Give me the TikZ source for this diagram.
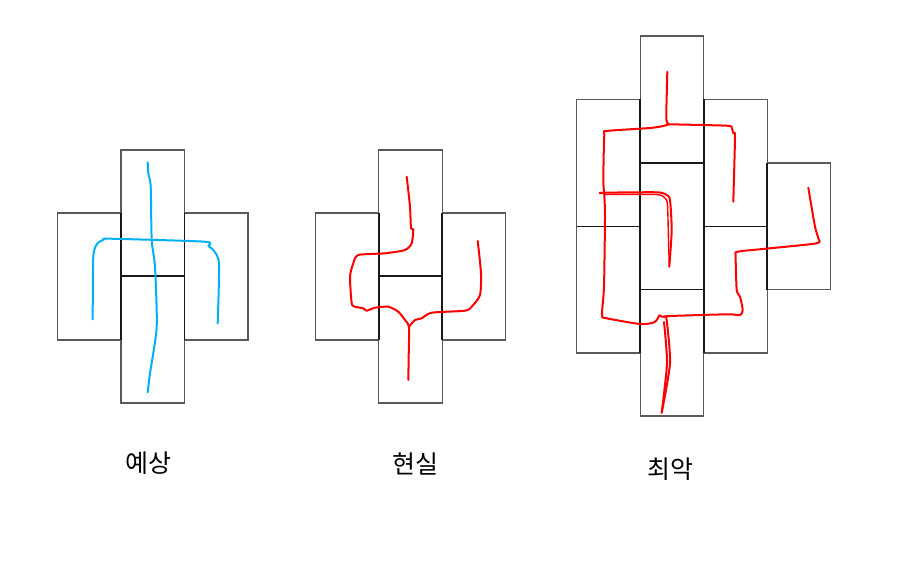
\documentclass[tikz,border=0pt]{standalone}
\usepackage{fontspec}
\newfontfamily\kofont{Noto Sans CJK KR}
\tikzset{
  cell/.style={draw=black!65, line width=0.65pt},
  seam/.style={draw=black!90, line width=0.8pt},
  plan/.style={color=#1, line width=1pt, line cap=round, line join=round},
  caption/.style={font=\kofont\fontsize{12.5}{14}\selectfont, inner sep=0pt}
}
\definecolor{skyblue}{RGB}{0,176,240}
\begin{document}
\begin{tikzpicture}[x=0.5pt, y=-0.5pt]
        \useasboundingbox (0,0) rectangle (900,583);
        % Expected: four cells
        \draw[cell] (121,150) rectangle (184.5,276.5);
        \draw[cell] (121,276.5) rectangle (184.5,403);
        \draw[cell] (57.5,213) rectangle (121,340);
        \draw[cell] (184.5,213) rectangle (248,340);
        \draw[seam] (121,213) -- (121,340) (184.5,213) -- (184.5,340) (121,276) -- (184.5,276);
        \draw[plan=skyblue] plot[smooth, tension=0.4] coordinates {(147.7,162.3) (148.3,173.3) (150.7,186.7) (151.7,240) (155,266.7) (156.7,326.7) (150,373.3) (147.7,392.3)};
        \draw[plan=skyblue] plot[smooth, tension=0.4] coordinates {(92.7,319.3) (93.3,256.7) (97,244) (104,239.5) (110,238.7) (205,241.7) (208.3,246) (213.3,250) (219,263.3) (217.7,323.3)};
        \node[caption] (expect) at (148.5,463.5) {예상};
        % Reality
        \draw[cell] (378.7,150) rectangle (442.2,276.5);
        \draw[cell] (378.7,276.5) rectangle (442.2,403);
        \draw[cell] (315.3,213) rectangle (378.7,340);
        \draw[cell] (442.2,213) rectangle (505.7,340);
        \draw[seam] (378.7,213) -- (378.7,340) (442.2,213) -- (442.2,340) (378.7,276) -- (442.2,276);
        \draw[plan=red] plot[smooth, tension=0.4] coordinates {(406.7,176.7) (410,206.7) (411,228.3) (413.3,229.3) (411.7,243.3) (405,250) (385,253.3) (358.3,255) (353.3,263.3) (350,276.7) (351.7,303.3) (355,306.7) (363.3,308.3) (366.7,310.7) (375,307.7) (388.3,306.7) (398.3,311.7) (405,320) (409,326.7) (408.8,350) (408.3,380)};
        \draw[plan=red] plot[smooth, tension=0.4] coordinates {(409,326.7) (415,320) (421.7,318.3) (431.7,312.7) (465,310.7) (471.7,306.7) (480,295) (481,273.3) (477.7,241)};
        \node[caption] (real) at (415,464) {현실};
        % Worst case
        \draw[cell] (640.2,36) rectangle (703.7,163);
        \draw[cell] (640.2,163) rectangle (703.7,289.5);
        \draw[cell] (640.2,289.5) rectangle (703.7,416);
        \draw[cell] (576.7,99.5) rectangle (640.2,226.5);
        \draw[cell] (576.7,226.5) rectangle (640.2,353);
        \draw[cell] (703.7,99.5) rectangle (767.2,226.5);
        \draw[cell] (703.7,226.5) rectangle (767.2,353);
        \draw[cell] (767.2,163) rectangle (830.7,289.5);
        \draw[seam] (640.2,99.5) -- (640.2,353) (703.7,99.5) -- (703.7,353) (767.2,163) -- (767.2,289.5)
          (640.2,163) -- (703.7,163) (640.2,289.5) -- (703.7,289.5) (576.7,226.5) -- (640.2,226.5) (703.7,226.5) -- (767.2,226.5);
        \draw[plan=red] plot[smooth, tension=0.4] coordinates {(667.3,71.7) (666.7,96.7) (666.3,120) (668.7,124.3)};
        \draw[plan=red] plot[smooth, tension=0.4] coordinates {(668.7,124.3) (670,124.3) (726.7,125.7) (731.7,127.7) (733.3,133.3) (735,136.7) (733.3,201.7)};
        \draw[plan=red] plot[smooth, tension=0.4] coordinates {(668.7,124.3) (663.3,126) (650,128) (606.7,131) (604.3,135) (603.3,180) (604.3,195) (605,216.7) (604,286.7) (602,315) (606.7,318.3) (640,324) (653.3,322.7) (657.3,319.3) (659.3,315.3) (661.7,316.7) (665,316.7)};
        \draw[plan=red] plot[smooth, tension=0.4] coordinates {(665,316.7) (670,316) (726.7,314.3) (740,315) (742.7,310) (740,296.7) (736.7,290) (735.7,256.7) (737.7,251.7) (770,248.3) (816.7,243.3) (818.3,238.3) (815,226.7) (808.3,187.7)};
        \draw[plan=red] plot[smooth, tension=0.4] coordinates {(665,316.7) (666.7,320) (670,363.3) (661.7,412.7)};
        \draw[plan=red] plot[smooth, tension=0.4] coordinates {(661.7,412.7) (667,363) (664,322)};
        \draw[plan=red] plot[smooth, tension=0.4] coordinates {(600.7,193.3) (603.3,192.7) (656.7,192.3) (666.7,195) (670,200) (671.7,230) (669.3,266.7)};
        \draw[plan=red, line width=0.7pt] plot[smooth, tension=0.4] coordinates {(604,194.5) (656,194.5) (665,198) (667.5,205) (668.5,240) (669.3,266.7)};
        \node[caption] (worst) at (670.5,469) {최악};
      \end{tikzpicture}
\end{document}
